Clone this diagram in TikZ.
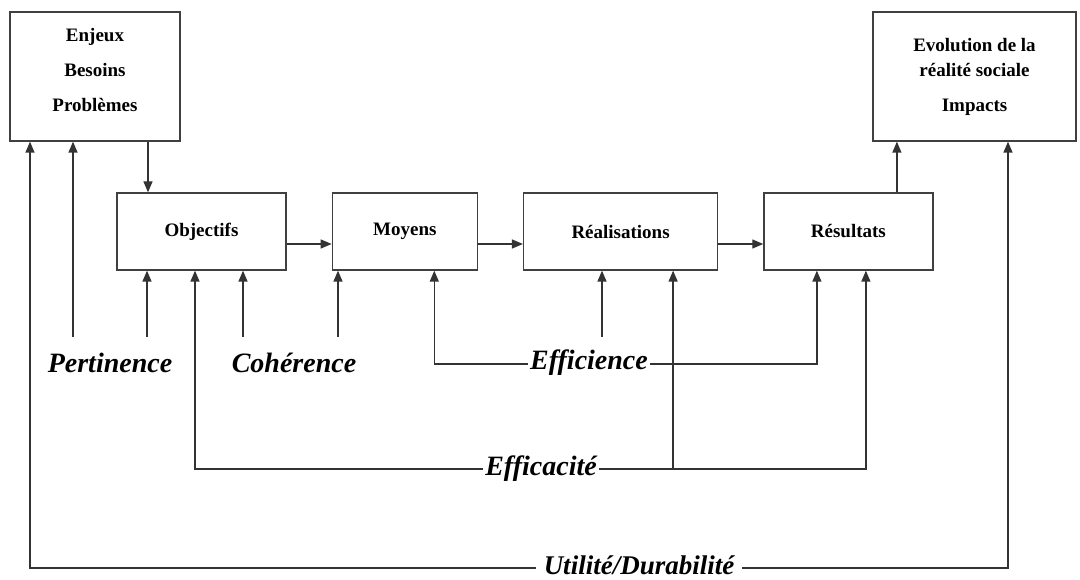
\documentclass[tikz,border=0pt]{standalone}
\usepackage{fontspec}
\setmainfont{Liberation Serif}
\usetikzlibrary{arrows.meta, positioning}
\tikzset{
  bloc/.style={rectangle, draw=black!75, line width=1.3pt, fill=white,
    align=center, font=\fontsize{19}{22}\selectfont\bfseries,
    minimum height=77pt, inner sep=4pt},
  grand/.style={bloc, minimum height=129pt},
  fleche/.style={-{Triangle[length=11pt,width=9pt]}, line width=1.3pt, draw=black!80},
  critere/.style={font=\fontsize{28}{30}\selectfont\bfseries\itshape,
    fill=white, inner xsep=2pt, inner ysep=1pt, text height=12pt, text depth=0pt},
}

\begin{document}
\begin{tikzpicture}[x=1pt, y=-1pt, node distance=45pt]
  \useasboundingbox (0,0) rectangle (1080,580);
  % contexte
  \node[grand, minimum width=170pt, text depth=14pt, font=\fontsize{19}{35}\selectfont\bfseries] (enj) at (95,76.5) {Enjeux\\Besoins\\Problèmes};
  \node[grand, minimum width=203pt, font=\fontsize{19}{25}\selectfont\bfseries] (evo) at (974.5,76.5) {Evolution de la\\réalité sociale\\[10pt]Impacts};
  % chaine
  \node[bloc, minimum width=169pt] (obj) at (201.5,231.5) {Objectifs};
  \node[bloc, minimum width=145pt, right=of obj] (moy) {Moyens};
  \node[bloc, minimum width=194pt, right=of moy] (rea) {Réalisations};
  \node[bloc, minimum width=169pt, right=of rea] (res) {Résultats};
  \draw[fleche] ([yshift=-12.5pt]obj.east) -- ([yshift=-12.5pt]moy.west);
  \draw[fleche] ([yshift=-12.5pt]moy.east) -- ([yshift=-12.5pt]rea.west);
  \draw[fleche] ([yshift=-12.5pt]rea.east) -- ([yshift=-12.5pt]res.west);
  \draw[fleche] ([xshift=-53.5pt]obj.north |- enj.south) -- ([xshift=-53.5pt]obj.north);
  \draw[fleche] ([xshift=48.5pt]res.north) -- ([xshift=48.5pt]res.north |- evo.south);
  % criteres
  \node[critere] (pert) at (110,366) {Pertinence};
  \node[critere] (coh) at (294,366) {Cohérence};
  \node[critere] (effi) at (589,364) {Efficience};
  \node[critere] (effa) at (541,469) {Efficacité};
  \node[critere, inner xsep=8pt, font=\fontsize{27}{30}\selectfont\bfseries\itshape] (util) at (639,568) {Utilité/Durabilité};
  \coordinate (pe1) at (73,337);
  \coordinate (pe2) at (147,337);
  \coordinate (co1) at (243,337);
  \coordinate (co2) at (338,337);
  \coordinate (ef1) at (602,337);
  \draw[fleche] (pe1) -- (pe1 |- enj.south);
  \draw[fleche] (pe2) -- (pe2 |- obj.south);
  \draw[fleche] (co1) -- (co1 |- obj.south);
  \draw[fleche] (co2) -- (co2 |- moy.south);
  \draw[fleche] (ef1) -- (ef1 |- rea.south);
  \draw[fleche] (effi.west) -| ([xshift=29.5pt]moy.south);
  \draw[fleche] (effi.east) -| ([xshift=-31.5pt]res.south);
  \draw[fleche] (effa.west) -| ([xshift=-6.5pt]obj.south);
  \draw[fleche] (effa.east) -| ([xshift=17.5pt]res.south);
  \draw[fleche] ([xshift=52.5pt]rea.south |- effa.east) -- ([xshift=52.5pt]rea.south);
  \draw[fleche] (util.west) -| ([xshift=-65pt]enj.south);
  \draw[fleche] (util.east) -| ([xshift=33.5pt]evo.south);
\end{tikzpicture}
\end{document}
